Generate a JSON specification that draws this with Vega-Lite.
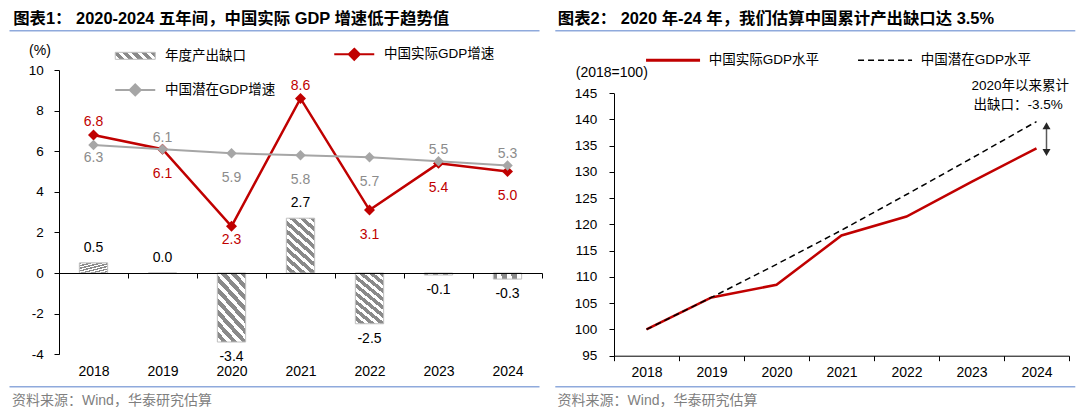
{
  "$schema": "https://vega.github.io/schema/vega-lite/v6.json",
  "padding": {"left": 8, "top": 10, "right": 0, "bottom": 0},
  "background": "white",
  "spacing": 11,
  "resolve": {"scale": {"color": "independent"}, "legend": {"color": "independent"}},
  "hconcat": [
    {
      "width": 483,
      "height": 284.2,
      "title": {"text": "图表1： 2020-2024 五年间，中国实际 GDP 增速低于趋势值", "anchor": "start", "frame": "group", "dx": -45.8, "offset": 3},
      "layer": [
        {
          "data": {"values": [
            {"year": "2018", "gap": 0.5, "actual": 6.8, "potential": 6.3},
            {"year": "2019", "gap": 0.0, "actual": 6.1, "potential": 6.1},
            {"year": "2020", "gap": -3.4, "actual": 2.3, "potential": 5.9},
            {"year": "2021", "gap": 2.7, "actual": 8.6, "potential": 5.8},
            {"year": "2022", "gap": -2.5, "actual": 3.1, "potential": 5.7},
            {"year": "2023", "gap": -0.1, "actual": 5.4, "potential": 5.5},
            {"year": "2024", "gap": -0.3, "actual": 5.0, "potential": 5.3}
          ]},
          "encoding": {
            "x": {"field": "year", "type": "ordinal",
              "scale": {"type": "band", "paddingInner": 0, "paddingOuter": 0},
              "axis": {"title": "资料来源：Wind，华泰研究估算", "titleX": -47.5, "titleY": 127, "titleAlign": "left", "titleBaseline": "middle", "titleColor": "#7F7F7F", "titleFontSize": 14, "offset": -81.2, "labelPadding": 86.5, "labelAngle": 0, "tickBand": "extent", "tickSize": 5, "labelFontSize": 14, "zindex": 1}}
          },
          "layer": [
            {
              "mark": {"type": "bar", "width": {"band": 0.41}, "stroke": "#BFBFBF", "strokeWidth": 1,
                "fill": {"gradient": "linear", "x1": 0, "y1": 1, "x2": 0.548, "y2": -0.205, "stops": [
                  {"offset": 0, "color": "#ffffff"}, {"offset": 0.05, "color": "#ffffff"}, {"offset": 0.05, "color": "#8a8a8a"}, {"offset": 0.1111, "color": "#8a8a8a"},
                  {"offset": 0.1111, "color": "#ffffff"}, {"offset": 0.1611, "color": "#ffffff"}, {"offset": 0.1611, "color": "#8a8a8a"}, {"offset": 0.2222, "color": "#8a8a8a"},
                  {"offset": 0.2222, "color": "#ffffff"}, {"offset": 0.2722, "color": "#ffffff"}, {"offset": 0.2722, "color": "#8a8a8a"}, {"offset": 0.3333, "color": "#8a8a8a"},
                  {"offset": 0.3333, "color": "#ffffff"}, {"offset": 0.3833, "color": "#ffffff"}, {"offset": 0.3833, "color": "#8a8a8a"}, {"offset": 0.4444, "color": "#8a8a8a"},
                  {"offset": 0.4444, "color": "#ffffff"}, {"offset": 0.4944, "color": "#ffffff"}, {"offset": 0.4944, "color": "#8a8a8a"}, {"offset": 0.5556, "color": "#8a8a8a"},
                  {"offset": 0.5556, "color": "#ffffff"}, {"offset": 0.6056, "color": "#ffffff"}, {"offset": 0.6056, "color": "#8a8a8a"}, {"offset": 0.6667, "color": "#8a8a8a"},
                  {"offset": 0.6667, "color": "#ffffff"}, {"offset": 0.7167, "color": "#ffffff"}, {"offset": 0.7167, "color": "#8a8a8a"}, {"offset": 0.7778, "color": "#8a8a8a"},
                  {"offset": 0.7778, "color": "#ffffff"}, {"offset": 0.8278, "color": "#ffffff"}, {"offset": 0.8278, "color": "#8a8a8a"}, {"offset": 0.8889, "color": "#8a8a8a"},
                  {"offset": 0.8889, "color": "#ffffff"}, {"offset": 0.9389, "color": "#ffffff"}, {"offset": 0.9389, "color": "#8a8a8a"}, {"offset": 1, "color": "#8a8a8a"}
                ]}},
              "encoding": {
                "y": {"field": "gap", "type": "quantitative",
                  "scale": {"domain": [-4, 10], "nice": false, "zero": false},
                  "axis": {"values": [-4, -2, 0, 2, 4, 6, 8, 10], "format": "d", "labelExpr": "replace(datum.label, '−', '-')", "labelOverlap": false, "title": "(%)", "titleAngle": 0, "titleAlign": "center", "titleBaseline": "middle", "titleX": -19.5, "titleY": -19.3, "titleFontSize": 14, "titleColor": "#000", "labelPadding": 10.8, "tickSize": 5, "labelFontSize": 13.5}}
              }
            },
            {
              "mark": {"type": "line", "strokeWidth": 2.5},
              "encoding": {
                "y": {"field": "actual", "type": "quantitative"},
                "color": {"datum": "中国实际GDP增速", "type": "nominal",
                  "scale": {"domain": ["年度产出缺口", "中国实际GDP增速", "中国潜在GDP增速"], "range": ["#BFBFBF", "#C00000", "#A6A6A6"]},
                  "legend": {
                    "values": ["年度产出缺口", "中国实际GDP增速", "中国潜在GDP增速"],
                    "orient": "none", "legendX": 59.5, "legendY": -22.8, "title": null,
                    "direction": "horizontal", "columns": 2, "columnPadding": 54, "rowPadding": 16,
                    "symbolSize": 400, "symbolOffset": 10, "labelOffset": 23,
                    "encode": {"symbols": {"update": {
                      "shape": {"signal": "datum.value === '年度产出缺口' ? 'M-2,-0.35H2V0.35H-2Z' : 'M-2,0H2M0,-0.55L0.55,0L0,0.55L-0.55,0Z'"},
                      "fill": {"signal": "datum.value === '年度产出缺口' ? {gradient: 'linear', x1: 0, y1: 1, x2: 1.14, y2: 0.8, stops: [{offset: 0, color: '#ffffff'}, {offset: 0.09, color: '#ffffff'}, {offset: 0.09, color: '#8a8a8a'}, {offset: 0.2, color: '#8a8a8a'}, {offset: 0.2, color: '#ffffff'}, {offset: 0.29, color: '#ffffff'}, {offset: 0.29, color: '#8a8a8a'}, {offset: 0.4, color: '#8a8a8a'}, {offset: 0.4, color: '#ffffff'}, {offset: 0.49, color: '#ffffff'}, {offset: 0.49, color: '#8a8a8a'}, {offset: 0.6, color: '#8a8a8a'}, {offset: 0.6, color: '#ffffff'}, {offset: 0.69, color: '#ffffff'}, {offset: 0.69, color: '#8a8a8a'}, {offset: 0.8, color: '#8a8a8a'}, {offset: 0.8, color: '#ffffff'}, {offset: 0.89, color: '#ffffff'}, {offset: 0.89, color: '#8a8a8a'}, {offset: 1, color: '#8a8a8a'}]} : (datum.value === '中国实际GDP增速' ? '#C00000' : '#A6A6A6')"},
                      "stroke": {"signal": "datum.value === '年度产出缺口' ? '#BFBFBF' : (datum.value === '中国实际GDP增速' ? '#C00000' : '#A6A6A6')"},
                      "strokeWidth": {"signal": "datum.value === '年度产出缺口' ? 1 : 2"},
                      "opacity": {"value": 1}
                    }}}
                  }}
              }
            },
            {
              "mark": {"type": "point", "shape": "diamond", "filled": true, "size": 120, "opacity": 1, "color": "#C00000"},
              "encoding": {
                "y": {"field": "actual", "type": "quantitative"}
              }
            },
            {
              "mark": {"type": "line", "strokeWidth": 2},
              "encoding": {
                "y": {"field": "potential", "type": "quantitative"},
                "color": {"datum": "中国潜在GDP增速", "type": "nominal"}
              }
            },
            {
              "mark": {"type": "point", "shape": "diamond", "filled": true, "size": 110, "opacity": 1, "color": "#A6A6A6"},
              "encoding": {
                "y": {"field": "potential", "type": "quantitative"}
              }
            },
            {
              "transform": [{"filter": "datum.gap >= 0"}, {"calculate": "replace(format(datum.gap, '.1f'), '−', '-')", "as": "gapLabel"}],
              "mark": {"type": "text", "font": "Liberation Sans", "fontSize": 14, "baseline": "middle", "dy": -15, "color": "#000000"},
              "encoding": {"y": {"field": "gap", "type": "quantitative"}, "text": {"field": "gapLabel", "type": "nominal"}}
            },
            {
              "transform": [{"filter": "datum.gap < 0"}, {"calculate": "replace(format(datum.gap, '.1f'), '−', '-')", "as": "gapLabel"}],
              "mark": {"type": "text", "font": "Liberation Sans", "fontSize": 14, "baseline": "middle", "dy": 15, "color": "#000000"},
              "encoding": {"y": {"field": "gap", "type": "quantitative"}, "text": {"field": "gapLabel", "type": "nominal"}}
            },
            {
              "transform": [{"filter": "datum.year == '2018' || datum.year == '2021'"}],
              "mark": {"type": "text", "font": "Liberation Sans", "fontSize": 14, "baseline": "middle", "dy": -12.5, "color": "#C00000"},
              "encoding": {"y": {"field": "actual", "type": "quantitative"}, "text": {"field": "actual", "type": "quantitative", "format": ".1f"}}
            },
            {
              "transform": [{"filter": "datum.year == '2020'"}],
              "mark": {"type": "text", "font": "Liberation Sans", "fontSize": 14, "baseline": "middle", "dy": 14, "color": "#C00000"},
              "encoding": {"y": {"field": "actual", "type": "quantitative"}, "text": {"field": "actual", "type": "quantitative", "format": ".1f"}}
            },
            {
              "transform": [{"filter": "indexof(['2019', '2022', '2023', '2024'], datum.year) >= 0"}],
              "mark": {"type": "text", "font": "Liberation Sans", "fontSize": 14, "baseline": "middle", "dy": 24.5, "color": "#C00000"},
              "encoding": {"y": {"field": "actual", "type": "quantitative"}, "text": {"field": "actual", "type": "quantitative", "format": ".1f"}}
            },
            {
              "transform": [{"filter": "datum.year == '2018'"}],
              "mark": {"type": "text", "font": "Liberation Sans", "fontSize": 14, "baseline": "middle", "dy": 13, "color": "#8C8C8C"},
              "encoding": {"y": {"field": "potential", "type": "quantitative"}, "text": {"field": "potential", "type": "quantitative", "format": ".1f"}}
            },
            {
              "transform": [{"filter": "indexof(['2019', '2023', '2024'], datum.year) >= 0"}],
              "mark": {"type": "text", "font": "Liberation Sans", "fontSize": 14, "baseline": "middle", "dy": -11.5, "color": "#8C8C8C"},
              "encoding": {"y": {"field": "potential", "type": "quantitative"}, "text": {"field": "potential", "type": "quantitative", "format": ".1f"}}
            },
            {
              "transform": [{"filter": "indexof(['2020', '2021', '2022'], datum.year) >= 0"}],
              "mark": {"type": "text", "font": "Liberation Sans", "fontSize": 14, "baseline": "middle", "dy": 24.5, "color": "#8C8C8C"},
              "encoding": {"y": {"field": "potential", "type": "quantitative"}, "text": {"field": "potential", "type": "quantitative", "format": ".1f"}}
            }
          ]
        },
        {
          "data": {"values": [{}]},
          "encoding": {
            "x": {"datum": 0, "type": "quantitative", "scale": {"domain": [0, 1], "range": [-49.5, 480.5], "nice": false, "zero": false}, "axis": null},
            "x2": {"datum": 1}
          },
          "layer": [
            {"mark": {"type": "rule", "color": "#8FAADC", "strokeWidth": 1.5},
             "encoding": {"y": {"datum": 1, "type": "quantitative", "scale": {"domain": [0, 1], "range": [316.7, -39.3], "nice": false, "zero": false}, "axis": null}}},
            {"mark": {"type": "rule", "color": "#8FAADC", "strokeWidth": 1.5},
             "encoding": {"y": {"datum": 0, "type": "quantitative"}}}
          ]
        }
      ],
      "resolve": {"scale": {"x": "independent", "y": "independent"}}
    },
    {
      "width": 455,
      "height": 285.7,
      "title": {"text": "图表2： 2020 年-24 年，我们估算中国累计产出缺口达 3.5%", "anchor": "start", "frame": "group", "dx": -56.2, "offset": 3},
      "layer": [
        {
          "data": {"values": [
            {"year": "2018", "series": "中国实际GDP水平", "value": 100},
            {"year": "2019", "series": "中国实际GDP水平", "value": 106.1},
            {"year": "2020", "series": "中国实际GDP水平", "value": 108.5},
            {"year": "2021", "series": "中国实际GDP水平", "value": 117.9},
            {"year": "2022", "series": "中国实际GDP水平", "value": 121.5},
            {"year": "2023", "series": "中国实际GDP水平", "value": 128.1},
            {"year": "2024", "series": "中国实际GDP水平", "value": 134.5},
            {"year": "2018", "series": "中国潜在GDP水平", "value": 100},
            {"year": "2019", "series": "中国潜在GDP水平", "value": 106.1},
            {"year": "2020", "series": "中国潜在GDP水平", "value": 112.4},
            {"year": "2021", "series": "中国潜在GDP水平", "value": 118.9},
            {"year": "2022", "series": "中国潜在GDP水平", "value": 125.7},
            {"year": "2023", "series": "中国潜在GDP水平", "value": 132.6},
            {"year": "2024", "series": "中国潜在GDP水平", "value": 139.6}
          ]},
          "encoding": {
            "x": {"field": "year", "type": "ordinal",
              "scale": {"type": "band", "paddingInner": 0, "paddingOuter": 0},
              "axis": {"title": "资料来源：Wind，华泰研究估算", "titleX": -56.9, "titleY": 44.3, "titleAlign": "left", "titleBaseline": "middle", "titleColor": "#7F7F7F", "titleFontSize": 14, "labelPadding": 4.7, "labelAngle": 0, "tickBand": "extent", "tickSize": 5, "labelFontSize": 14}}
          },
          "layer": [
            {
              "transform": [{"filter": "datum.series == '中国实际GDP水平'"}],
              "mark": {"type": "line", "strokeWidth": 2.5},
              "encoding": {
                "y": {"field": "value", "type": "quantitative",
                  "scale": {"domain": [95, 145], "range": [285.7, 23.2], "nice": false, "zero": false},
                  "axis": {"values": [95, 100, 105, 110, 115, 120, 125, 130, 135, 140, 145], "tickCount": 20, "format": "d", "labelOverlap": false, "title": "(2018=100)", "titleAngle": 0, "titleAlign": "center", "titleBaseline": "middle", "titleX": -2.7, "titleY": 2.7, "titleFontSize": 14, "titleColor": "#000", "labelPadding": 12.2, "tickSize": 5, "labelFontSize": 13.5}},
                "color": {"field": "series", "type": "nominal",
                  "scale": {"domain": ["中国实际GDP水平", "中国潜在GDP水平"], "range": ["#C00000", "#000000"]},
                  "legend": {
                    "orient": "none", "legendX": 36.3, "legendY": -16.8, "title": null,
                    "direction": "horizontal", "columns": 2, "columnPadding": 35,
                    "symbolSize": 400, "symbolOffset": 16, "labelOffset": 29,
                    "encode": {"symbols": {"update": {
                      "shape": {"value": "M-2.7,0H2.7"},
                      "fill": {"value": "transparent"},
                      "stroke": {"signal": "datum.value === '中国实际GDP水平' ? '#C00000' : '#000000'"},
                      "strokeWidth": {"signal": "datum.value === '中国实际GDP水平' ? 3 : 1.5"},
                      "strokeDash": {"signal": "datum.value === '中国实际GDP水平' ? [1, 0] : [6, 4]"},
                      "opacity": {"value": 1}
                    }}}
                  }}
              }
            },
            {
              "transform": [{"filter": "datum.series == '中国潜在GDP水平'"}],
              "mark": {"type": "line", "strokeWidth": 1.5, "strokeDash": [6, 4]},
              "encoding": {
                "y": {"field": "value", "type": "quantitative"},
                "color": {"field": "series", "type": "nominal"}
              }
            },
            {
              "data": {"values": [{}]},
              "mark": {"type": "rule", "color": "#595959", "strokeWidth": 1.5, "xOffset": 10},
              "encoding": {
                "x": {"datum": "2024", "type": "ordinal"},
                "y": {"datum": 138.8, "type": "quantitative"},
                "y2": {"datum": 133.7}
              }
            },
            {
              "data": {"values": [{}]},
              "mark": {"type": "point", "shape": "triangle-up", "filled": true, "size": 64, "color": "#262626", "opacity": 1, "xOffset": 10},
              "encoding": {
                "x": {"datum": "2024", "type": "ordinal"},
                "y": {"datum": 138.8, "type": "quantitative"}
              }
            },
            {
              "data": {"values": [{}]},
              "mark": {"type": "point", "shape": "triangle-down", "filled": true, "size": 64, "color": "#262626", "opacity": 1, "xOffset": 10},
              "encoding": {
                "x": {"datum": "2024", "type": "ordinal"},
                "y": {"datum": 133.7, "type": "quantitative"}
              }
            },
            {
              "data": {"values": [{}]},
              "mark": {"type": "text", "align": "left", "baseline": "middle", "fontSize": 13.5, "dx": -65, "dy": -7.5, "color": "#000000"},
              "encoding": {
                "x": {"datum": "2024", "type": "ordinal"},
                "y": {"datum": 145, "type": "quantitative"},
                "text": {"value": "2020年以来累计"}
              }
            },
            {
              "data": {"values": [{}]},
              "mark": {"type": "text", "align": "left", "baseline": "middle", "fontSize": 13.5, "dx": -63, "dy": 11.5, "color": "#000000"},
              "encoding": {
                "x": {"datum": "2024", "type": "ordinal"},
                "y": {"datum": 145, "type": "quantitative"},
                "text": {"value": "出缺口：-3.5%"}
              }
            }
          ]
        },
        {
          "data": {"values": [{}]},
          "encoding": {
            "x": {"datum": 0, "type": "quantitative", "scale": {"domain": [0, 1], "range": [-58.7, 461.3], "nice": false, "zero": false}, "axis": null},
            "x2": {"datum": 1}
          },
          "layer": [
            {"mark": {"type": "rule", "color": "#8FAADC", "strokeWidth": 1.5},
             "encoding": {"y": {"datum": 1, "type": "quantitative", "scale": {"domain": [0, 1], "range": [316.7, -39.3], "nice": false, "zero": false}, "axis": null}}},
            {"mark": {"type": "rule", "color": "#8FAADC", "strokeWidth": 1.5},
             "encoding": {"y": {"datum": 0, "type": "quantitative"}}}
          ]
        }
      ],
      "resolve": {"scale": {"x": "independent", "y": "independent"}}
    }
  ],
  "config": {
    "view": {"stroke": null},
    "font": "Liberation Sans, Noto Sans CJK SC",
    "title": {"font": "Liberation Sans, Noto Sans CJK SC", "fontSize": 16.4, "fontWeight": "bold", "color": "#000000"},
    "axis": {"labelFont": "Liberation Sans", "labelColor": "#000000", "domainColor": "#000000", "tickColor": "#000000", "domainWidth": 1, "tickWidth": 1, "grid": false, "labelOverlap": false, "titleFont": "Liberation Sans, Noto Sans CJK SC", "titleFontWeight": "normal"},
    "legend": {"labelFont": "Liberation Sans, Noto Sans CJK SC", "labelFontSize": 13.5, "labelColor": "#000000", "padding": 0, "labelLimit": 400},
    "text": {"font": "Liberation Sans, Noto Sans CJK SC"}
  }
}
